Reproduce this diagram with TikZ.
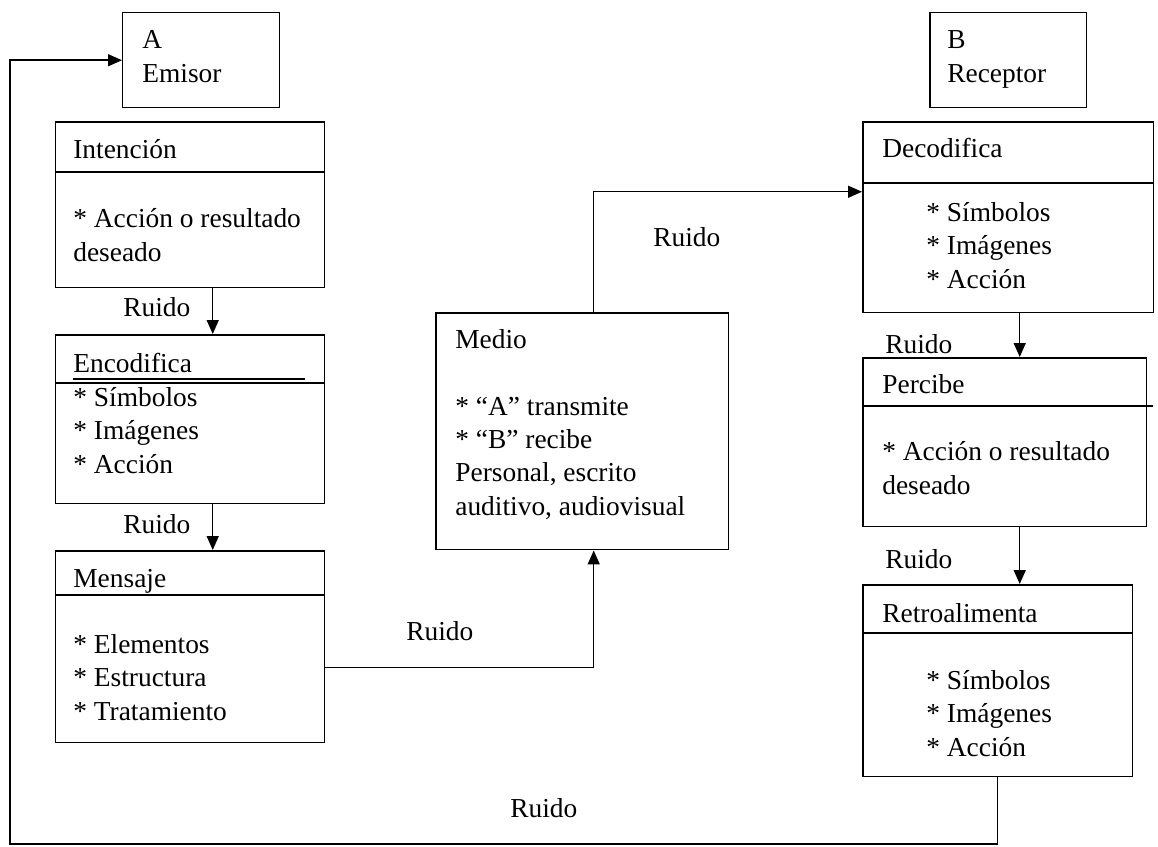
\documentclass[tikz,border=0pt]{standalone}
\usepackage{fontspec}
\setmainfont{Liberation Serif}
\usepackage{tikz}
\usetikzlibrary{arrows.meta,positioning,calc}
\tikzstyle{box} = [rectangle, draw=black, line width=0.85pt, anchor=north west, inner sep=0pt]
\tikzstyle{txt} = [anchor=base west, inner sep=0pt, align=left, font=\fontsize{15.6pt}{18.9pt}\selectfont]
\tikzstyle{wire} = [line width=0.85pt]
\tikzstyle{arrow} = [line width=0.85pt,-{Triangle[length=0.28cm,width=0.24cm]}]

\begin{document}
\begin{tikzpicture}[x=0.02cm, y=-0.02cm]
\useasboundingbox (0,0) rectangle (1158,846);

% Emisor (multi-line texts sit on their last baseline)
\node [box, minimum width=3.14cm, minimum height=1.90cm] (emisor) at (122,12) {};
\node [txt] (emisorT) at (142,82) {A\\Emisor};

% Intencion
\node [box, minimum width=5.38cm, minimum height=3.32cm] (intencion) at (55,121) {};
\draw [wire] (intencion.west |- 0,172) -- (intencion.east |- 0,172);
\node [txt] (intencionT) at (73,158) {Intención};
\node [txt] (intencionB) at (73,261) {* Acción o resultado\\deseado};

% Encodifica
\node [box, minimum width=5.38cm, minimum height=3.38cm] (encodifica) at (55,334) {};
\draw [wire] (encodifica.west |- 0,383) -- (encodifica.east |- 0,383);
\node [txt] (encodificaT) at (73,372) {Encodifica};
\draw [wire] (encodificaT.south west |- 0,379) -- (305,379);
\node [txt] (encodificaB) at (73,473) {* Símbolos\\* Imágenes\\* Acción};

% Mensaje
\node [box, minimum width=5.38cm, minimum height=3.84cm] (mensaje) at (55,550) {};
\draw [wire] (mensaje.west |- 0,595) -- (mensaje.east |- 0,595);
\node [txt] (mensajeT) at (73,587) {Mensaje};
\node [txt] (mensajeB) at (73,720) {* Elementos\\* Estructura\\* Tratamiento};

% Medio
\node [box, minimum width=5.86cm, minimum height=4.74cm] (medio) at (435,312) {};
\node [txt] (medioT) at (455,348) {Medio};
\node [txt] (medioB) at (455,515) {* “A” transmite\\* “B” recibe\\Personal, escrito\\auditivo, audiovisual};

% Receptor
\node [box, minimum width=3.14cm, minimum height=1.90cm] (receptor) at (929,12) {};
\node [txt] (receptorT) at (947,82) {B\\Receptor};

% Decodifica
\node [box, minimum width=5.82cm, minimum height=3.82cm] (decodifica) at (862,121) {};
\draw [wire] (decodifica.west |- 0,183) -- (decodifica.east |- 0,183);
\node [txt] (decodificaT) at (882,157) {Decodifica};
\node [txt] (decodificaB) at (926,288) {* Símbolos\\* Imágenes\\* Acción};

% Percibe
\node [box, minimum width=5.68cm, minimum height=3.38cm] (percibe) at (862,357) {};
\draw [wire] (percibe.west |- 0,406) -- (1153,406);
\node [txt] (percibeT) at (882,393) {Percibe};
\node [txt] (percibeB) at (882,494) {* Acción o resultado\\deseado};

% Retroalimenta
\node [box, minimum width=5.40cm, minimum height=3.84cm] (retro) at (862,584) {};
\draw [wire] (retro.west |- 0,633) -- (retro.east |- 0,633);
\node [txt] (retroT) at (882,622) {Retroalimenta};
\node [txt] (retroB) at (926,756) {* Símbolos\\* Imágenes\\* Acción};

% Arrows
\coordinate (loop) at (10,844);
\draw [arrow] ([xshift=0.45cm]intencion.south) -- ([xshift=0.45cm]encodifica.north);
\draw [arrow] ([xshift=0.45cm]encodifica.south) -- ([xshift=0.45cm]mensaje.north);
\draw [arrow] ([yshift=-0.42cm]mensaje.east) -| ([xshift=0.23cm]medio.south);
\draw [arrow] ([xshift=0.23cm]medio.north) |- ([yshift=0.51cm]decodifica.west);
\draw [arrow] ([xshift=0.23cm]decodifica.south) -- ([xshift=0.23cm]decodifica.south |- percibe.north);
\draw [arrow] ([xshift=0.3cm]percibe.south) -- ([xshift=0.3cm]percibe.south |- retro.north);
\draw [arrow] (retro.south) |- (loop) |- (emisor.west);

% Ruido
\node [txt] (r1) at (123,316) {Ruido};
\node [txt] (r2) at (123,533) {Ruido};
\node [txt] (r3) at (406,640) {Ruido};
\node [txt] (r4) at (653,246) {Ruido};
\node [txt] (r5) at (885,353) {Ruido};
\node [txt] (r6) at (885,568) {Ruido};
\node [txt] (r7) at (510,817) {Ruido};

\end{tikzpicture}
\end{document}
